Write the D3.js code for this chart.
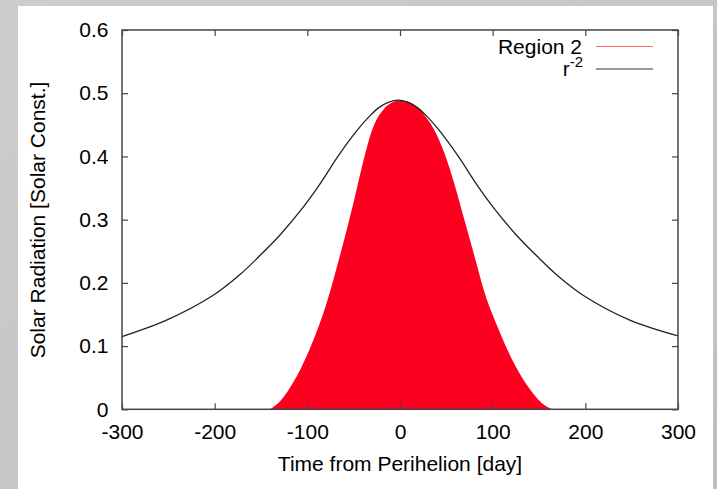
<!DOCTYPE html>
<html>
<head>
<meta charset="utf-8">
<script src="https://cdn.jsdelivr.net/npm/d3@7"></script>
<style>
  body { margin: 0; padding: 0; overflow: hidden; }
  text { font-family: "Liberation Sans", Arial, Helvetica, sans-serif; fill: #000; }
</style>
</head>
<body>
<script>
// r^-2 curve
var inverseSquareDays = [-300, -252, -202, -172, -152, -130, -107, -87, -67, -47, -32, -22, -12, -2, 8, 18, 28, 43, 63, 83, 103, 126, 148, 168, 198, 248, 300];
var inverseSquareVals = [0.115, 0.141, 0.180, 0.214, 0.242, 0.275, 0.315, 0.355, 0.400, 0.440, 0.465, 0.478, 0.486, 0.489, 0.486, 0.478, 0.465, 0.440, 0.400, 0.355, 0.315, 0.275, 0.242, 0.214, 0.180, 0.141, 0.116];

// Region 2 filled curve
var regionDays = [-140, -128, -115, -97, -79, -65, -50, -40, -29, -18, -10, -2, 8, 19, 28, 37, 48, 59, 70, 81, 91, 106, 124, 142, 153, 164];
var regionVals = [0, 0.015, 0.043, 0.097, 0.169, 0.242, 0.328, 0.390, 0.446, 0.474, 0.484, 0.488, 0.487, 0.477, 0.462, 0.442, 0.405, 0.355, 0.297, 0.239, 0.186, 0.128, 0.070, 0.028, 0.010, 0];

var xTicks = [-300, -200, -100, 0, 100, 200, 300];
var yTicks = [0, 0.1, 0.2, 0.3, 0.4, 0.5, 0.6];
var yTickLabels = ["0", "0.1", "0.2", "0.3", "0.4", "0.5", "0.6"];

var seriesNames = ["Region 2", "r"];

function init() {
    var W = 717, H = 489;
    var plot = {left: 122, top: 30, right: 678, bottom: 409.3};

    var svg = d3.select("body").append("svg")
        .attr("width", W)
        .attr("height", H);

    // grey slide background
    var grad = svg.append("defs").append("linearGradient")
        .attr("id", "bg").attr("x1", 0).attr("y1", 0).attr("x2", 1).attr("y2", 1);
    grad.append("stop").attr("offset", "0%").attr("stop-color", "#cdcdcd");
    grad.append("stop").attr("offset", "100%").attr("stop-color", "#bfbfbf");
    svg.append("rect").attr("width", W).attr("height", H).attr("fill", "url(#bg)");
    svg.append("rect").attr("x", 18).attr("y", 6).attr("width", 695).attr("height", H - 6).attr("fill", "#fff");

    var x = d3.scaleLinear().domain([-300, 300]).range([plot.left, plot.right]);
    var y = d3.scaleLinear().domain([0, 0.6]).range([plot.bottom, plot.top]);

    var region = regionDays.map(function(d, i) { return [d, regionVals[i]]; });
    var inv = inverseSquareDays.map(function(d, i) { return [d, inverseSquareVals[i]]; });

    // filled red region
    svg.append("path")
        .datum(region)
        .attr("fill", "#fe001f")
        .attr("d", d3.area()
            .curve(d3.curveMonotoneX)
            .x(function(d) { return x(d[0]); })
            .y0(y(0))
            .y1(function(d) { return y(d[1]); }));

    // r^-2 line
    svg.append("path")
        .datum(inv)
        .attr("fill", "none")
        .attr("stroke", "#222")
        .attr("stroke-width", 1.3)
        .attr("d", d3.line()
            .curve(d3.curveCatmullRom.alpha(0.5))
            .x(function(d) { return x(d[0]); })
            .y(function(d) { return y(d[1]); }));

    var fontSize = 21;

    // axes, ticks pointing inward on all four sides
    var gb = svg.append("g")
        .attr("transform", "translate(0," + plot.bottom + ")")
        .call(d3.axisBottom(x).tickValues(xTicks).tickSize(-6).tickPadding(14.5)
            .tickFormat(function(d) { return String(d); }));
    var gt = svg.append("g")
        .attr("transform", "translate(0," + plot.top + ")")
        .call(d3.axisTop(x).tickValues(xTicks).tickSize(-6).tickFormat(""));
    var gl = svg.append("g")
        .attr("transform", "translate(" + plot.left + ",0)")
        .call(d3.axisLeft(y).tickValues(yTicks).tickSize(-6).tickPadding(13.5)
            .tickFormat(function(d, i) { return yTickLabels[i]; }));
    var gr = svg.append("g")
        .attr("transform", "translate(" + plot.right + ",0)")
        .call(d3.axisRight(y).tickValues(yTicks).tickSize(-6).tickFormat(""));

    [gb, gt, gl, gr].forEach(function(g) {
        g.select(".domain").remove();
        g.selectAll(".tick line").attr("stroke", "#444").attr("stroke-width", 1.2);
        g.selectAll(".tick text")
            .style("font-family", "'Liberation Sans', Arial, sans-serif")
            .style("font-size", fontSize + "px")
            .attr("fill", "#000");
    });

    // frame
    svg.append("rect")
        .attr("x", plot.left).attr("y", plot.top)
        .attr("width", plot.right - plot.left).attr("height", plot.bottom - plot.top)
        .attr("fill", "none").attr("stroke", "#444").attr("stroke-width", 1.5);

    // axis titles
    svg.append("text")
        .attr("x", 400).attr("y", 471)
        .attr("text-anchor", "middle")
        .style("font-size", fontSize + "px")
        .text("Time from Perihelion [day]");

    svg.append("text")
        .attr("transform", "translate(45,220) rotate(-90)")
        .attr("text-anchor", "middle")
        .style("font-size", fontSize + "px")
        .text("Solar Radiation [Solar Const.]");

    // legend
    var leg = svg.append("g");
    leg.append("text")
        .attr("x", 582).attr("y", 54)
        .attr("text-anchor", "end")
        .style("font-size", fontSize + "px")
        .text(seriesNames[0]);
    leg.append("line")
        .attr("x1", 596).attr("x2", 653).attr("y1", 46.5).attr("y2", 46.5)
        .attr("stroke", "#f66")
        .attr("stroke-width", 1);

    var rt = leg.append("text")
        .attr("x", 583).attr("y", 76)
        .attr("text-anchor", "end")
        .style("font-size", fontSize + "px");
    rt.append("tspan").text(seriesNames[1]);
    rt.append("tspan")
        .attr("dy", -9)
        .style("font-size", "15px")
        .text("-2");
    leg.append("line")
        .attr("x1", 596).attr("x2", 653).attr("y1", 69).attr("y2", 69)
        .attr("stroke", "#333")
        .attr("stroke-width", 1.2);
}

init();
</script>
</body>
</html>
